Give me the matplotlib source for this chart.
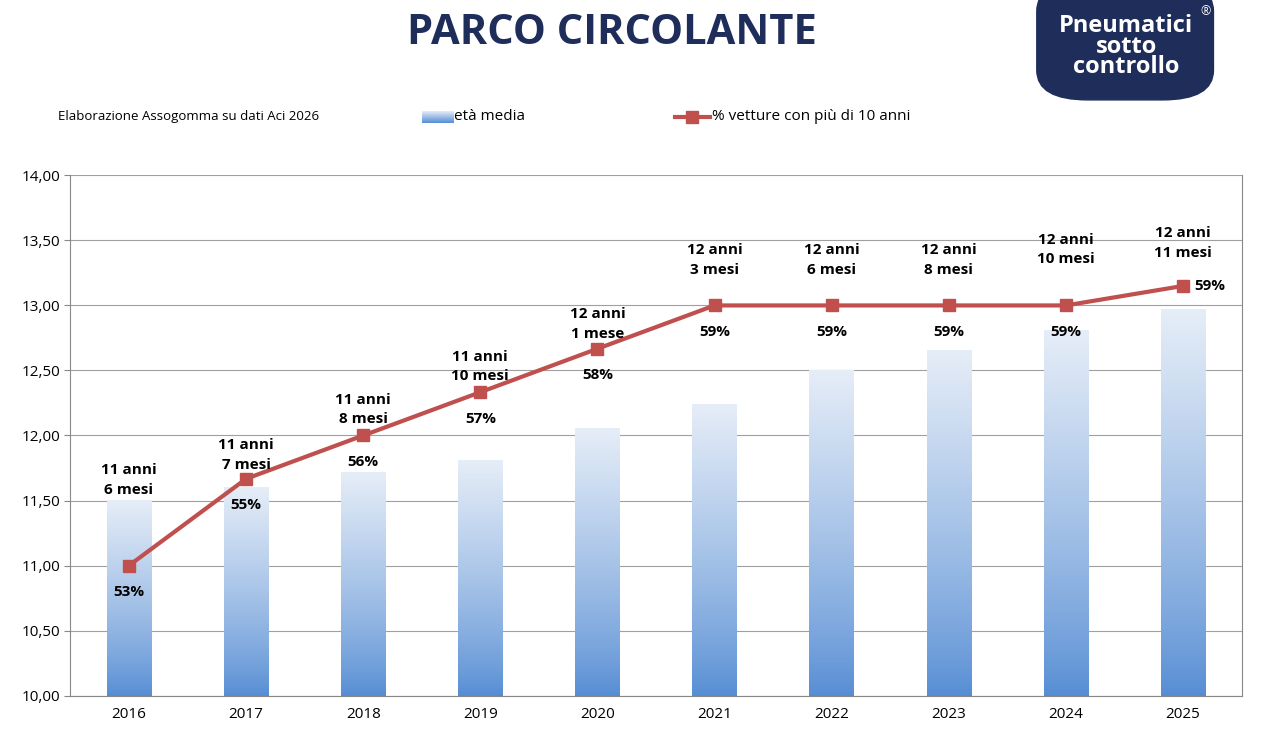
import matplotlib
matplotlib.use("Agg")
import matplotlib.pyplot as plt
import numpy as np
from matplotlib.patches import FancyBboxPatch

years = ["2016","2017","2018","2019","2020","2021","2022","2023","2024","2025"]
eta_media = [11.50, 11.60, 11.72, 11.81, 12.06, 12.24, 12.50, 12.66, 12.81, 12.97]
line_vals = [11.00, 11.667, 12.00, 12.333, 12.667, 13.00, 13.00, 13.00, 13.00, 13.15]
pct_labels = ["53%","55%","56%","57%","58%","59%","59%","59%","59%","59%"]
age_labels = ["11 anni\n6 mesi","11 anni\n7 mesi","11 anni\n8 mesi","11 anni\n10 mesi","12 anni\n1 mese",
              "12 anni\n3 mesi","12 anni\n6 mesi","12 anni\n8 mesi","12 anni\n10 mesi","12 anni\n11 mesi"]
yticks = [10.0,10.5,11.0,11.5,12.0,12.5,13.0,13.5,14.0]

plt.rcParams['font.family'] = ['Open Sans', 'DejaVu Sans']
fig = plt.figure(figsize=(12.8, 7.4), dpi=100)
ax = fig.add_axes([0.055, 0.06, 0.915, 0.703])
x = np.arange(len(years))

grad = np.linspace(0, 1, 256).reshape(-1, 1)
c_bot = np.array([0.33, 0.55, 0.83]); c_top = np.array([0.90, 0.93, 0.97])
img = c_bot + (c_top - c_bot) * grad[:, :, None] ** 0.8
for xi, v in zip(x, eta_media):
    w = 0.38
    ax.imshow(img, extent=(xi-w/2, xi+w/2, 10, v), origin='lower', aspect='auto', zorder=2)
ax.set_aspect('auto')
ax.set_xlim(-0.5, len(years)-0.5)
ax.set_ylim(10, 14)

ax.plot(x, line_vals, color='#C0504D', lw=3, marker='s', ms=9, zorder=4)

label_y = [11.53, 11.72, 12.07, 12.40, 12.73, 13.22, 13.22, 13.22, 13.30, 13.35]
for i in range(len(x)):
    if i == len(x)-1:
        ax.text(x[i]+0.1, line_vals[i], pct_labels[i], fontsize=11, fontweight='bold', va='center', zorder=5)
    else:
        ax.text(x[i], line_vals[i]-0.15, pct_labels[i], fontsize=11, fontweight='bold', ha='center', va='top', zorder=5)
    ax.text(x[i], label_y[i], age_labels[i], fontsize=11, fontweight='bold', ha='center', va='bottom',
            linespacing=1.5, zorder=5)

ax.set_yticks(yticks)
ax.set_yticklabels([f"{t:.2f}".replace('.', ',') for t in yticks], fontsize=11)
ax.set_xticks(x)
ax.set_xticklabels(years, fontsize=11)
ax.grid(axis='y', color='#A0A0A0', lw=0.8, zorder=0)
ax.spines['top'].set_visible(False)
for s in ['left','bottom','right']:
    ax.spines[s].set_color('#888888')
ax.tick_params(axis='x', length=0, pad=8)
ax.tick_params(axis='y', length=4, color='#888888')

fig.text(0.478, 0.955, "PARCO CIRCOLANTE", fontsize=30, fontweight='bold', color='#1F2D5A', ha='center', va='center')
fig.text(0.045, 0.842, "Elaborazione Assogomma su dati Aci 2026", fontsize=9.5, va='center')
lg = fig.add_axes([0.33, 0.834, 0.025, 0.016]); lg.axis('off')
lg.imshow(c_bot + (c_top - c_bot) * grad[:, :, None], origin='lower', aspect='auto', extent=(0,1,0,1))
fig.text(0.355, 0.842, "età media", fontsize=11, va='center')
fig.add_artist(plt.Line2D([0.527, 0.555], [0.842, 0.842], color='#C0504D', lw=3, transform=fig.transFigure))
fig.add_artist(plt.Line2D([0.541], [0.842], color='#C0504D', marker='s', ms=8, transform=fig.transFigure))
fig.text(0.556, 0.842, "% vetture con più di 10 anni", fontsize=11, va='center')

logo = FancyBboxPatch((0.81, 0.865), 0.138, 0.16, boxstyle="round,pad=0,rounding_size=0.04",
                      transform=fig.transFigure, color='#1F2D5A', zorder=1)
fig.add_artist(logo)
fig.text(0.88, 0.937, "Pneumatici\nsotto\ncontrollo", color='white', fontsize=17, fontweight='bold',
         ha='center', va='center', linespacing=0.8)
fig.text(0.942, 0.985, "®", color='white', fontsize=9, ha='center', va='center')

fig.savefig("out.png", dpi=100)
